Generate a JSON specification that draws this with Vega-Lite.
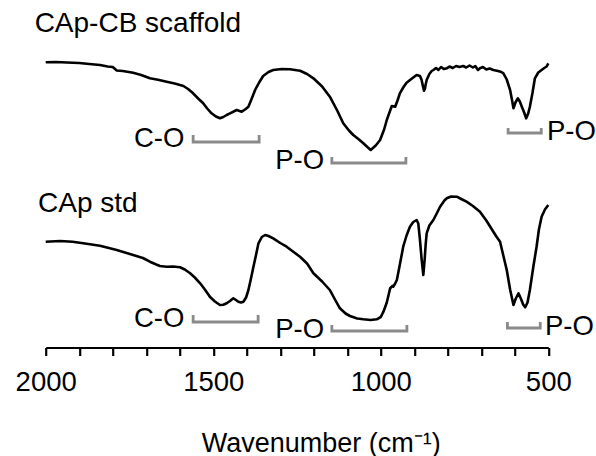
{
  "$schema": "https://vega.github.io/schema/vega-lite/v6.json",
  "width": 502.6,
  "height": 347.5,
  "autosize": {"type": "none"},
  "padding": {"left": 45.7, "top": 0, "right": 47.7, "bottom": 108.5},
  "background": "white",
  "config": {"view": {"stroke": null}, "font": "Liberation Sans"},
  "datasets": {
    "curves": [
      {"series": "CAp-CB scaffold", "wn": 2000, "v": 285.2}, {"series": "CAp-CB scaffold", "wn": 1970, "v": 285.5}, {"series": "CAp-CB scaffold", "wn": 1937, "v": 285.0}, {"series": "CAp-CB scaffold", "wn": 1900, "v": 284.5}, {"series": "CAp-CB scaffold", "wn": 1870, "v": 283.5}, {"series": "CAp-CB scaffold", "wn": 1838, "v": 282.5}, {"series": "CAp-CB scaffold", "wn": 1815, "v": 281}, {"series": "CAp-CB scaffold", "wn": 1800, "v": 280.5}, {"series": "CAp-CB scaffold", "wn": 1788, "v": 277}, {"series": "CAp-CB scaffold", "wn": 1770, "v": 276.5}, {"series": "CAp-CB scaffold", "wn": 1739, "v": 274.8}, {"series": "CAp-CB scaffold", "wn": 1715, "v": 272.5}, {"series": "CAp-CB scaffold", "wn": 1689, "v": 269.2}, {"series": "CAp-CB scaffold", "wn": 1665, "v": 267.8}, {"series": "CAp-CB scaffold", "wn": 1639, "v": 265.8}, {"series": "CAp-CB scaffold", "wn": 1615, "v": 264}, {"series": "CAp-CB scaffold", "wn": 1589, "v": 261.5}, {"series": "CAp-CB scaffold", "wn": 1575, "v": 258.5}, {"series": "CAp-CB scaffold", "wn": 1560, "v": 254.2}, {"series": "CAp-CB scaffold", "wn": 1545, "v": 249}, {"series": "CAp-CB scaffold", "wn": 1530, "v": 244.2}, {"series": "CAp-CB scaffold", "wn": 1518, "v": 239}, {"series": "CAp-CB scaffold", "wn": 1505, "v": 234.2}, {"series": "CAp-CB scaffold", "wn": 1492, "v": 231}, {"series": "CAp-CB scaffold", "wn": 1480, "v": 229.2}, {"series": "CAp-CB scaffold", "wn": 1470, "v": 230.5}, {"series": "CAp-CB scaffold", "wn": 1460, "v": 232.5}, {"series": "CAp-CB scaffold", "wn": 1450, "v": 234.2}, {"series": "CAp-CB scaffold", "wn": 1430, "v": 237.5}, {"series": "CAp-CB scaffold", "wn": 1415, "v": 235.8}, {"series": "CAp-CB scaffold", "wn": 1405, "v": 238}, {"series": "CAp-CB scaffold", "wn": 1395, "v": 240.8}, {"series": "CAp-CB scaffold", "wn": 1385, "v": 249}, {"series": "CAp-CB scaffold", "wn": 1375, "v": 257.5}, {"series": "CAp-CB scaffold", "wn": 1363, "v": 265}, {"series": "CAp-CB scaffold", "wn": 1351, "v": 271.5}, {"series": "CAp-CB scaffold", "wn": 1335, "v": 275.5}, {"series": "CAp-CB scaffold", "wn": 1321, "v": 277.5}, {"series": "CAp-CB scaffold", "wn": 1295, "v": 278.5}, {"series": "CAp-CB scaffold", "wn": 1271, "v": 278.2}, {"series": "CAp-CB scaffold", "wn": 1241, "v": 276.8}, {"series": "CAp-CB scaffold", "wn": 1220, "v": 273.5}, {"series": "CAp-CB scaffold", "wn": 1201, "v": 269.2}, {"series": "CAp-CB scaffold", "wn": 1175, "v": 261}, {"series": "CAp-CB scaffold", "wn": 1152, "v": 250.8}, {"series": "CAp-CB scaffold", "wn": 1130, "v": 237}, {"series": "CAp-CB scaffold", "wn": 1112, "v": 224.2}, {"series": "CAp-CB scaffold", "wn": 1095, "v": 217}, {"series": "CAp-CB scaffold", "wn": 1082, "v": 212.5}, {"series": "CAp-CB scaffold", "wn": 1065, "v": 208}, {"series": "CAp-CB scaffold", "wn": 1052, "v": 204.2}, {"series": "CAp-CB scaffold", "wn": 1040, "v": 200.5}, {"series": "CAp-CB scaffold", "wn": 1030, "v": 197.5}, {"series": "CAp-CB scaffold", "wn": 1015, "v": 202}, {"series": "CAp-CB scaffold", "wn": 1002, "v": 207.5}, {"series": "CAp-CB scaffold", "wn": 990, "v": 218}, {"series": "CAp-CB scaffold", "wn": 982, "v": 227.5}, {"series": "CAp-CB scaffold", "wn": 972, "v": 237}, {"series": "CAp-CB scaffold", "wn": 967, "v": 241.5}, {"series": "CAp-CB scaffold", "wn": 957, "v": 240.8}, {"series": "CAp-CB scaffold", "wn": 950, "v": 247}, {"series": "CAp-CB scaffold", "wn": 943, "v": 254.2}, {"series": "CAp-CB scaffold", "wn": 933, "v": 260}, {"series": "CAp-CB scaffold", "wn": 923, "v": 264.8}, {"series": "CAp-CB scaffold", "wn": 905, "v": 269.5}, {"series": "CAp-CB scaffold", "wn": 893, "v": 272.5}, {"series": "CAp-CB scaffold", "wn": 883, "v": 271.5}, {"series": "CAp-CB scaffold", "wn": 878, "v": 267.5}, {"series": "CAp-CB scaffold", "wn": 874, "v": 261}, {"series": "CAp-CB scaffold", "wn": 871, "v": 256.8}, {"series": "CAp-CB scaffold", "wn": 868, "v": 259}, {"series": "CAp-CB scaffold", "wn": 866, "v": 263}, {"series": "CAp-CB scaffold", "wn": 863, "v": 267.5}, {"series": "CAp-CB scaffold", "wn": 855, "v": 273.5}, {"series": "CAp-CB scaffold", "wn": 848, "v": 276.5}, {"series": "CAp-CB scaffold", "wn": 843, "v": 277.5}, {"series": "CAp-CB scaffold", "wn": 835, "v": 279.5}, {"series": "CAp-CB scaffold", "wn": 828, "v": 277.5}, {"series": "CAp-CB scaffold", "wn": 820, "v": 280.5}, {"series": "CAp-CB scaffold", "wn": 812, "v": 278.5}, {"series": "CAp-CB scaffold", "wn": 803, "v": 279.2}, {"series": "CAp-CB scaffold", "wn": 795, "v": 281}, {"series": "CAp-CB scaffold", "wn": 785, "v": 279.5}, {"series": "CAp-CB scaffold", "wn": 775, "v": 281.5}, {"series": "CAp-CB scaffold", "wn": 765, "v": 280.5}, {"series": "CAp-CB scaffold", "wn": 754, "v": 281.5}, {"series": "CAp-CB scaffold", "wn": 745, "v": 280}, {"series": "CAp-CB scaffold", "wn": 735, "v": 282}, {"series": "CAp-CB scaffold", "wn": 725, "v": 280}, {"series": "CAp-CB scaffold", "wn": 718, "v": 281.5}, {"series": "CAp-CB scaffold", "wn": 710, "v": 277.5}, {"series": "CAp-CB scaffold", "wn": 704, "v": 279.2}, {"series": "CAp-CB scaffold", "wn": 695, "v": 280.5}, {"series": "CAp-CB scaffold", "wn": 685, "v": 278}, {"series": "CAp-CB scaffold", "wn": 675, "v": 279}, {"series": "CAp-CB scaffold", "wn": 664, "v": 277.5}, {"series": "CAp-CB scaffold", "wn": 650, "v": 276.5}, {"series": "CAp-CB scaffold", "wn": 640, "v": 275.5}, {"series": "CAp-CB scaffold", "wn": 634, "v": 274.2}, {"series": "CAp-CB scaffold", "wn": 624, "v": 268}, {"series": "CAp-CB scaffold", "wn": 614, "v": 257.5}, {"series": "CAp-CB scaffold", "wn": 608, "v": 247}, {"series": "CAp-CB scaffold", "wn": 604, "v": 239.2}, {"series": "CAp-CB scaffold", "wn": 598, "v": 245}, {"series": "CAp-CB scaffold", "wn": 591, "v": 249.2}, {"series": "CAp-CB scaffold", "wn": 585, "v": 246}, {"series": "CAp-CB scaffold", "wn": 579, "v": 240.8}, {"series": "CAp-CB scaffold", "wn": 572, "v": 235}, {"series": "CAp-CB scaffold", "wn": 566, "v": 229.2}, {"series": "CAp-CB scaffold", "wn": 560, "v": 234}, {"series": "CAp-CB scaffold", "wn": 555, "v": 240.8}, {"series": "CAp-CB scaffold", "wn": 547, "v": 255}, {"series": "CAp-CB scaffold", "wn": 540, "v": 269.2}, {"series": "CAp-CB scaffold", "wn": 530, "v": 275}, {"series": "CAp-CB scaffold", "wn": 520, "v": 277.5}, {"series": "CAp-CB scaffold", "wn": 512, "v": 279.5}, {"series": "CAp-CB scaffold", "wn": 505, "v": 281}, {"series": "CAp-CB scaffold", "wn": 500, "v": 284.2},
      {"series": "CAp std", "wn": 2000, "v": 105.8}, {"series": "CAp std", "wn": 1957, "v": 106.5}, {"series": "CAp std", "wn": 1920, "v": 105.8}, {"series": "CAp std", "wn": 1888, "v": 104.2}, {"series": "CAp std", "wn": 1838, "v": 101.8}, {"series": "CAp std", "wn": 1788, "v": 97.5}, {"series": "CAp std", "wn": 1739, "v": 92.5}, {"series": "CAp std", "wn": 1710, "v": 89.5}, {"series": "CAp std", "wn": 1689, "v": 85.8}, {"series": "CAp std", "wn": 1670, "v": 83}, {"series": "CAp std", "wn": 1659, "v": 81.5}, {"series": "CAp std", "wn": 1639, "v": 80.8}, {"series": "CAp std", "wn": 1620, "v": 81}, {"series": "CAp std", "wn": 1599, "v": 80.2}, {"series": "CAp std", "wn": 1585, "v": 78}, {"series": "CAp std", "wn": 1569, "v": 74.2}, {"series": "CAp std", "wn": 1555, "v": 70}, {"series": "CAp std", "wn": 1539, "v": 64.2}, {"series": "CAp std", "wn": 1525, "v": 58}, {"series": "CAp std", "wn": 1510, "v": 50.8}, {"series": "CAp std", "wn": 1495, "v": 46}, {"series": "CAp std", "wn": 1480, "v": 42.5}, {"series": "CAp std", "wn": 1470, "v": 42.8}, {"series": "CAp std", "wn": 1460, "v": 44.2}, {"series": "CAp std", "wn": 1450, "v": 46.5}, {"series": "CAp std", "wn": 1440, "v": 49.2}, {"series": "CAp std", "wn": 1432, "v": 47.5}, {"series": "CAp std", "wn": 1425, "v": 45.8}, {"series": "CAp std", "wn": 1417, "v": 45}, {"series": "CAp std", "wn": 1410, "v": 45.8}, {"series": "CAp std", "wn": 1402, "v": 50}, {"series": "CAp std", "wn": 1395, "v": 57.5}, {"series": "CAp std", "wn": 1388, "v": 68}, {"series": "CAp std", "wn": 1380, "v": 80.8}, {"series": "CAp std", "wn": 1372, "v": 93}, {"series": "CAp std", "wn": 1365, "v": 104.2}, {"series": "CAp std", "wn": 1355, "v": 110.5}, {"series": "CAp std", "wn": 1345, "v": 112.5}, {"series": "CAp std", "wn": 1335, "v": 111.5}, {"series": "CAp std", "wn": 1321, "v": 109.2}, {"series": "CAp std", "wn": 1300, "v": 104.5}, {"series": "CAp std", "wn": 1281, "v": 100.8}, {"series": "CAp std", "wn": 1260, "v": 95.5}, {"series": "CAp std", "wn": 1241, "v": 90.8}, {"series": "CAp std", "wn": 1220, "v": 84}, {"series": "CAp std", "wn": 1201, "v": 74.2}, {"series": "CAp std", "wn": 1175, "v": 66}, {"series": "CAp std", "wn": 1152, "v": 57.5}, {"series": "CAp std", "wn": 1135, "v": 47}, {"series": "CAp std", "wn": 1122, "v": 39.2}, {"series": "CAp std", "wn": 1105, "v": 34}, {"series": "CAp std", "wn": 1092, "v": 31.5}, {"series": "CAp std", "wn": 1070, "v": 29}, {"series": "CAp std", "wn": 1052, "v": 28.2}, {"series": "CAp std", "wn": 1030, "v": 27.5}, {"series": "CAp std", "wn": 1012, "v": 28.2}, {"series": "CAp std", "wn": 1000, "v": 30.5}, {"series": "CAp std", "wn": 992, "v": 35.8}, {"series": "CAp std", "wn": 982, "v": 45}, {"series": "CAp std", "wn": 972, "v": 59.2}, {"series": "CAp std", "wn": 965, "v": 61.5}, {"series": "CAp std", "wn": 963, "v": 60.8}, {"series": "CAp std", "wn": 957, "v": 64}, {"series": "CAp std", "wn": 952, "v": 67.5}, {"series": "CAp std", "wn": 943, "v": 83}, {"series": "CAp std", "wn": 933, "v": 100.8}, {"series": "CAp std", "wn": 923, "v": 112}, {"series": "CAp std", "wn": 913, "v": 120.8}, {"series": "CAp std", "wn": 903, "v": 125.5}, {"series": "CAp std", "wn": 893, "v": 127.5}, {"series": "CAp std", "wn": 888, "v": 124}, {"series": "CAp std", "wn": 883, "v": 107.5}, {"series": "CAp std", "wn": 878, "v": 88}, {"series": "CAp std", "wn": 873, "v": 72.5}, {"series": "CAp std", "wn": 869, "v": 88}, {"series": "CAp std", "wn": 866, "v": 103}, {"series": "CAp std", "wn": 863, "v": 114.2}, {"series": "CAp std", "wn": 855, "v": 122}, {"series": "CAp std", "wn": 843, "v": 127.5}, {"series": "CAp std", "wn": 833, "v": 134}, {"series": "CAp std", "wn": 823, "v": 140.8}, {"series": "CAp std", "wn": 810, "v": 147}, {"series": "CAp std", "wn": 803, "v": 149.2}, {"series": "CAp std", "wn": 790, "v": 151}, {"series": "CAp std", "wn": 773, "v": 150.8}, {"series": "CAp std", "wn": 760, "v": 148.5}, {"series": "CAp std", "wn": 744, "v": 145.8}, {"series": "CAp std", "wn": 725, "v": 141.5}, {"series": "CAp std", "wn": 704, "v": 135.8}, {"series": "CAp std", "wn": 685, "v": 127}, {"series": "CAp std", "wn": 664, "v": 115.8}, {"series": "CAp std", "wn": 655, "v": 111}, {"series": "CAp std", "wn": 644, "v": 105.8}, {"series": "CAp std", "wn": 635, "v": 93}, {"series": "CAp std", "wn": 624, "v": 77.5}, {"series": "CAp std", "wn": 614, "v": 58}, {"series": "CAp std", "wn": 604, "v": 42.5}, {"series": "CAp std", "wn": 597, "v": 49}, {"series": "CAp std", "wn": 589, "v": 54.2}, {"series": "CAp std", "wn": 582, "v": 49}, {"series": "CAp std", "wn": 575, "v": 43}, {"series": "CAp std", "wn": 569, "v": 40.2}, {"series": "CAp std", "wn": 562, "v": 45}, {"series": "CAp std", "wn": 555, "v": 57.5}, {"series": "CAp std", "wn": 545, "v": 80}, {"series": "CAp std", "wn": 535, "v": 100.8}, {"series": "CAp std", "wn": 528, "v": 118}, {"series": "CAp std", "wn": 520, "v": 130.8}, {"series": "CAp std", "wn": 510, "v": 138}, {"series": "CAp std", "wn": 500, "v": 142.5}
    ],
    "brackets": [
      {"id": "top C-O", "ord": 1, "wn": 1560, "v": 212.5}, {"id": "top C-O", "ord": 2, "wn": 1560, "v": 205.5}, {"id": "top C-O", "ord": 3, "wn": 1363, "v": 205.5}, {"id": "top C-O", "ord": 4, "wn": 1363, "v": 212.5},
      {"id": "top P-O 1", "ord": 1, "wn": 1146, "v": 190.5}, {"id": "top P-O 1", "ord": 2, "wn": 1146, "v": 184.5}, {"id": "top P-O 1", "ord": 3, "wn": 925, "v": 184.5}, {"id": "top P-O 1", "ord": 4, "wn": 925, "v": 190.5},
      {"id": "top P-O 2", "ord": 1, "wn": 620, "v": 219.5}, {"id": "top P-O 2", "ord": 2, "wn": 620, "v": 214.5}, {"id": "top P-O 2", "ord": 3, "wn": 521, "v": 214.5}, {"id": "top P-O 2", "ord": 4, "wn": 521, "v": 219.5},
      {"id": "bot C-O", "ord": 1, "wn": 1560, "v": 32.5}, {"id": "bot C-O", "ord": 2, "wn": 1560, "v": 25.5}, {"id": "bot C-O", "ord": 3, "wn": 1366, "v": 25.5}, {"id": "bot C-O", "ord": 4, "wn": 1366, "v": 32.5},
      {"id": "bot P-O 1", "ord": 1, "wn": 1146, "v": 22.5}, {"id": "bot P-O 1", "ord": 2, "wn": 1146, "v": 16.5}, {"id": "bot P-O 1", "ord": 3, "wn": 922, "v": 16.5}, {"id": "bot P-O 1", "ord": 4, "wn": 922, "v": 22.5},
      {"id": "bot P-O 2", "ord": 1, "wn": 622, "v": 25.5}, {"id": "bot P-O 2", "ord": 2, "wn": 622, "v": 19.5}, {"id": "bot P-O 2", "ord": 3, "wn": 524, "v": 19.5}, {"id": "bot P-O 2", "ord": 4, "wn": 524, "v": 25.5}
    ],
    "labels": [
      {"label": "C-O", "side": "right", "size": "small", "wn": 1586, "v": 200.8},
      {"label": "P-O", "side": "right", "size": "small", "wn": 1169, "v": 178.2},
      {"label": "P-O", "side": "left", "size": "small", "wn": 504, "v": 207.5},
      {"label": "C-O", "side": "right", "size": "small", "wn": 1586, "v": 20.8},
      {"label": "P-O", "side": "right", "size": "small", "wn": 1169, "v": 9.2},
      {"label": "P-O", "side": "left", "size": "small", "wn": 510, "v": 12.5},
      {"label": "CAp-CB scaffold", "side": "left", "size": "big", "wn": 2033, "v": 315.2},
      {"label": "CAp std", "side": "left", "size": "big", "wn": 2023, "v": 135.8}
    ]
  },
  "layer": [
    {
      "data": {"name": "curves"},
      "mark": {"type": "line", "color": "black", "strokeWidth": 2.6, "strokeJoin": "round"},
      "encoding": {
        "x": {
          "field": "wn", "type": "quantitative",
          "scale": {"domain": [2000, 500], "nice": false, "zero": false},
          "axis": {
            "values": [2000, 1900, 1800, 1700, 1600, 1500, 1400, 1300, 1200, 1100, 1000, 900, 800, 700, 600, 500],
            "tickCount": 40,
            "labelExpr": "datum.value % 500 === 0 ? datum.label : ''",
            "format": "d",
            "grid": false,
            "domainColor": "black", "domainWidth": 2.2,
            "tickColor": "black", "tickWidth": 2.2, "tickSize": 8,
            "labelFontSize": 27.5, "labelColor": "black", "labelPadding": 13,
            "labelFlush": false, "labelOverlap": false, "labelFont": "Liberation Sans",
            "title": "Wavenumber (cm⁻¹)",
            "titleFontSize": 27, "titleFontWeight": "normal", "titleColor": "black", "titleFont": "Liberation Sans",
            "titlePadding": 34, "titleX": 275
          }
        },
        "y": {"field": "v", "type": "quantitative", "scale": {"domain": [0, 347.5], "nice": false, "zero": false}, "axis": null},
        "detail": {"field": "series"}
      }
    },
    {
      "data": {"name": "brackets"},
      "mark": {"type": "line", "color": "#8a8a8a", "strokeWidth": 2.8},
      "encoding": {
        "x": {"field": "wn", "type": "quantitative"},
        "y": {"field": "v", "type": "quantitative"},
        "detail": {"field": "id"},
        "order": {"field": "ord"}
      }
    },
    {
      "data": {"name": "labels"},
      "transform": [{"filter": "datum.side === 'right'"}],
      "mark": {"type": "text", "align": "right", "baseline": "alphabetic", "fontSize": 27.5, "color": "black", "font": "Liberation Sans"},
      "encoding": {
        "x": {"field": "wn", "type": "quantitative"},
        "y": {"field": "v", "type": "quantitative"},
        "text": {"field": "label"}
      }
    },
    {
      "data": {"name": "labels"},
      "transform": [{"filter": "datum.side === 'left'"}],
      "mark": {"type": "text", "align": "left", "baseline": "alphabetic", "fontSize": 27.5, "color": "black", "font": "Liberation Sans"},
      "encoding": {
        "x": {"field": "wn", "type": "quantitative"},
        "y": {"field": "v", "type": "quantitative"},
        "text": {"field": "label"},
        "size": {"field": "size", "type": "nominal", "scale": {"domain": ["small", "big"], "range": [27.5, 28]}, "legend": null}
      }
    }
  ]
}
